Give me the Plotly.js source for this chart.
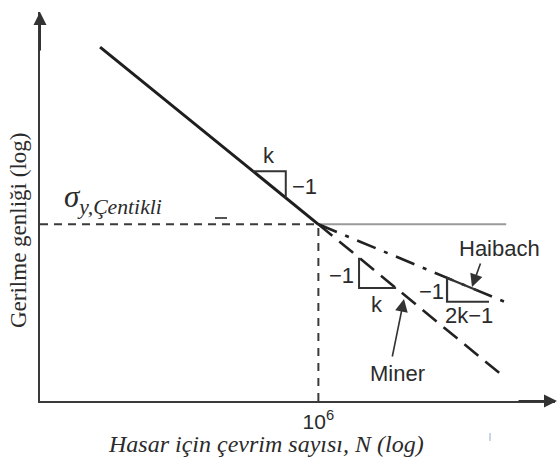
<!DOCTYPE html>
<html>
<head>
<meta charset="utf-8">
<script src="https://cdn.plot.ly/plotly-3.0.1.min.js"></script>
<style>
  html, body { margin: 0; padding: 0; background: #fff; }
  #chart { width: 558px; height: 463px; }
</style>
</head>
<body>
<div id="chart"></div>
<script>
// S-N curve: finite-life line, endurance limit, and the Miner / Haibach extensions
const kneeN = 1e6;
const enduranceS = 90;

const mainN = [730, 1e6];
const mainS = [257, 90];

const minerN = [1e6, 4e8];
const minerS = [90, 37.3];

const haibachN = [1e6, 6e8];
const haibachS = [90, 55.9];

const limitN = [1e6, 5e8];
const limitS = [90, 90];

const guideHN = [100, 1e6];
const guideHS = [90, 90];
const guideVN = [1e6, 1e6];
const guideVS = [31.6, 90];

// slope triangles
const triMainN = [1.15e5, 3.4e5, 3.4e5];
const triMainS = [123.2, 123.2, 105.2];
const triMinerN = [3.84e6, 3.84e6, 1.31e7];
const triMinerS = [73.8, 61.7, 61.7];
const triHaibachN = [2.83e8, 7.06e7, 7.06e7, 1.97e8];
const triHaibachS = [56.9, 56.9, 65.5, 60.7];

const tickVals = [1e6];
const tickText = ['10<sup>6</sup>'];

const ink = '#2b2b2b';
const sans = 'Liberation Sans, Arial, sans-serif';
const serif = 'Liberation Serif, Times New Roman, serif';

function line(x, y, color, width, dash) {
  return { x: x, y: y, type: 'scatter', mode: 'lines', hoverinfo: 'skip',
           showlegend: false, line: { color: color, width: width, dash: dash || 'solid' } };
}

const traces = [
  line(guideHN, guideHS, '#3a3a3a', 2, '8px,6px'),
  line(guideVN, guideVS, '#3a3a3a', 2, '8px,7px'),
  line(limitN, limitS, '#9a9a9a', 2),
  line(haibachN, haibachS, '#222', 2.6, '20px,9px,4px,9px'),
  line(minerN, minerS, '#222', 2.6, '18px,9px'),
  line(mainN, mainS, '#1e1e1e', 3),
  line(triMainN, triMainS, '#333', 2),
  line(triMinerN, triMinerS, '#333', 2),
  line(triHaibachN, triHaibachS, '#333', 2.2)
];

// helpers converting pixel spots of the 558x463 frame to paper coordinates
const L = 40, R = 555, T = 12, B = 401;
const px = v => (v - L) / (R - L);
const py = v => (B - v) / (B - T);

function label(text, x, y, size, family) {
  return { text: text, xref: 'paper', yref: 'paper', x: px(x), y: py(y),
           showarrow: false, xanchor: 'center', yanchor: 'middle',
           font: { family: family || sans, size: size || 22, color: ink } };
}

function pointer(tipX, tipY, tailX, tailY) {
  return { text: '', xref: 'paper', yref: 'paper', x: px(tipX), y: py(tipY),
           ax: tailX - tipX, ay: tailY - tipY, showarrow: true,
           arrowhead: 2, arrowsize: 1.6, arrowwidth: 1.6, arrowcolor: '#333', standoff: 0 };
}

const annotations = [
  label('k', 269, 155),
  label('−1', 304, 186),
  label('−1', 341, 275),
  label('k', 377, 304),
  label('−1', 431, 291),
  label('2k−1', 469, 315),
  label('Haibach', 499, 248),
  label('Miner', 397, 373),
  pointer(472, 287, 481, 262),
  pointer(404, 299, 392, 358),
  label('<i>σ<sub>y,Çentikli</sub></i>', 113, 199, 31, serif),
  label('<i>Hasar için çevrim sayısı, N (log)</i>', 266, 444, 24, serif),
  Object.assign(label('Gerilme genliği (log)', 18, 231, 23, serif), { textangle: -90 }),
  // axis arrowheads
  { text: '', xref: 'paper', yref: 'paper', x: 0, y: 1, ax: 0, ay: 40, showarrow: true,
    arrowhead: 2, arrowsize: 1.3, arrowwidth: 2, arrowcolor: '#333', standoff: 0 },
  { text: '', xref: 'paper', yref: 'paper', x: px(557), y: 0, ax: -40, ay: 0, showarrow: true,
    arrowhead: 2, arrowsize: 1.3, arrowwidth: 2, arrowcolor: '#333', standoff: 0 }
];

const shapes = [
  { type: 'line', xref: 'paper', yref: 'paper', x0: px(215), x1: px(227), y0: py(218), y1: py(218),
    line: { color: '#555', width: 2 } },
  { type: 'line', xref: 'paper', yref: 'paper', x0: px(490), x1: px(490), y0: py(433), y1: py(441),
    line: { color: '#b8c8dc', width: 1.5 } }
];

const layout = {
  width: 558, height: 463,
  margin: { l: L, r: 558 - R, t: T, b: 463 - B },
  paper_bgcolor: '#fff', plot_bgcolor: '#fff',
  showlegend: false,
  xaxis: {
    type: 'log', range: [2, 9.4], showgrid: false, zeroline: false,
    showline: true, linecolor: '#3a3a3a', linewidth: 2.4,
    tickvals: tickVals, ticktext: tickText, ticks: '',
    tickfont: { family: sans, size: 21, color: ink }
  },
  yaxis: {
    type: 'log', range: [1.5, 2.5], showgrid: false, zeroline: false,
    showline: true, linecolor: '#3a3a3a', linewidth: 2.4,
    showticklabels: false, ticks: ''
  },
  annotations: annotations,
  shapes: shapes
};

Plotly.newPlot('chart', traces, layout, { staticPlot: true, displayModeBar: false });
</script>
</body>
</html>
